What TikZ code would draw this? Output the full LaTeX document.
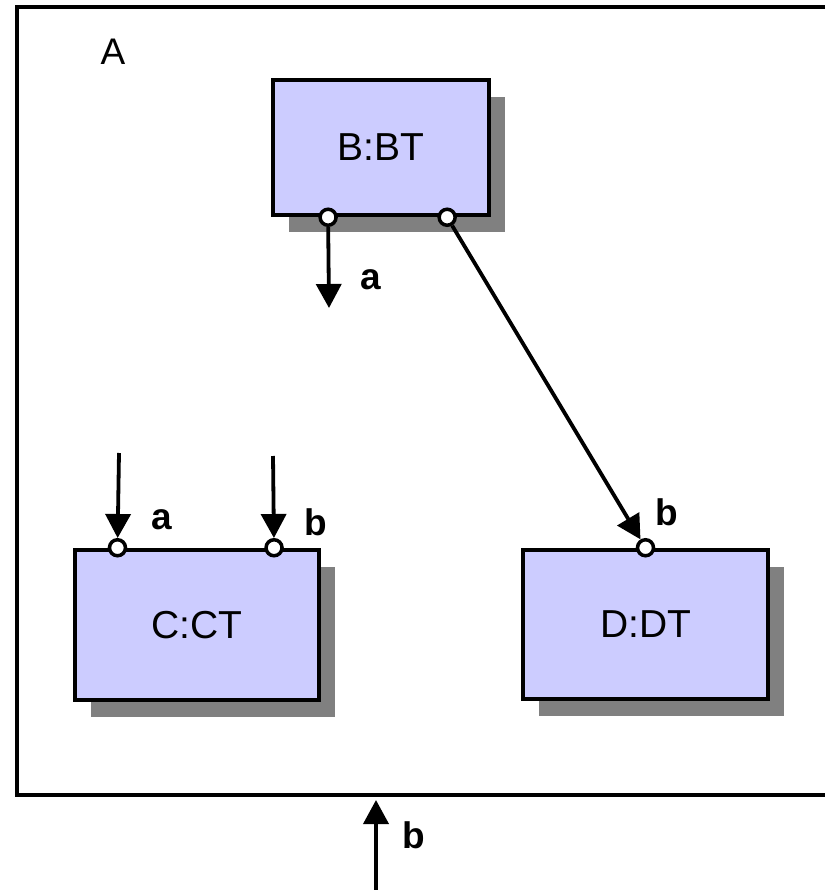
\documentclass[tikz,border=0pt]{standalone}
\usepackage{fontspec}
\setmainfont{Liberation Sans}
\usetikzlibrary{arrows.meta,shadows,calc}

\definecolor{partfill}{RGB}{204,204,255}
\definecolor{partshadow}{RGB}{128,128,128}

\tikzset{
  part/.style={draw=black, line width=4.5pt, fill=partfill, inner sep=0pt,
    font=\fontsize{39}{45}\selectfont,
    drop shadow={shadow xshift=16pt, shadow yshift=-17pt, fill=partshadow, opacity=1}},
  port/.style={circle, draw=black, line width=3.5pt, fill=white, inner sep=0pt, minimum size=16pt},
  msg/.style={line width=3.8pt, -{Triangle[length=24pt,width=25pt]}},
  lbl/.style={font=\bfseries\fontsize{37}{43}\selectfont},
}

\begin{document}
\begin{tikzpicture}[x=1pt,y=-1pt]
   \useasboundingbox (0,0) rectangle (825,890);

   % enclosing part
   \draw[line width=4.5pt] (825,7) -- (17,7) -- (17,795) -- (825,795);
   \node[font=\fontsize{37}{43}\selectfont] (Aname) at (113,52) {A};

   % parts
   \node[part, minimum width=216pt, minimum height=135pt] (B) at (381,147.5) {B:BT};
   \node[part, minimum width=244pt, minimum height=150pt] (C) at (197,625) {C:CT};
   \node[part, minimum width=245pt, minimum height=149pt] (D) at (645.5,624.5) {D:DT};

   % ports
   \node[port] (Ba) at ($(B.south west)!0.26!(B.south east)$) {};
   \node[port] (Bb) at ($(B.south west)!0.80!(B.south east)$) {};
   \node[port] (Ca) at ($(C.north west)!0.18!(C.north east)$) {};
   \node[port] (Cb) at ($(C.north west)!0.81!(C.north east)$) {};
   \node[port] (Db) at (D.north) {};

   \coordinate (Bout) at (329,308);
   \coordinate (Cain) at (119,453);
   \coordinate (Cbin) at (273,456);
   \coordinate (Ain) at (376,890);
   \coordinate (Aport) at (376,800);

   % messages
   \draw[msg] (Ba) -- (Bout);
   \draw[msg] (Bb) -- (Db);
   \draw[msg] (Cain) -- (Ca);
   \draw[msg] (Cbin) -- (Cb);
   \draw[msg] (Ain) -- (Aport);

   \node[lbl] (la1) at (371,280) {a};
   \node[lbl] (la2) at (162,520) {a};
   \node[lbl] (lb1) at (316,522) {b};
   \node[lbl] (lb2) at (667,512) {b};
   \node[lbl] (lb3) at (414,835) {b};
  \end{tikzpicture}
\end{document}
